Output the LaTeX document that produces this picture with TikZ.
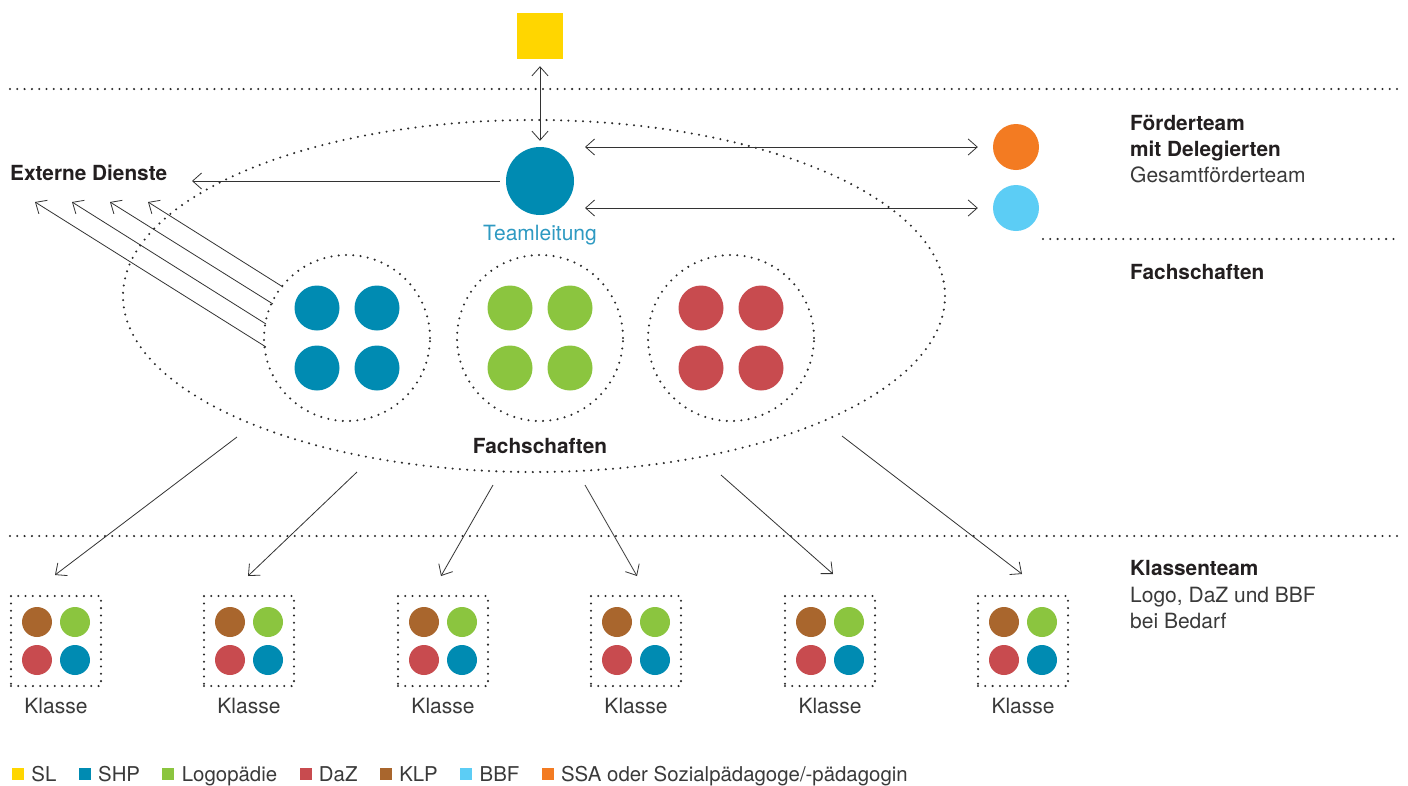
\documentclass[tikz,border=0pt]{standalone}
\usepackage{fontspec}
\setmainfont{TeX Gyre Heros}
\usetikzlibrary{arrows.meta,shapes.geometric,calc}
\definecolor{slc}{HTML}{FFD600}
\definecolor{shpc}{HTML}{008BB2}
\definecolor{logc}{HTML}{8BC53F}
\definecolor{dazc}{HTML}{C84B4F}
\definecolor{klpc}{HTML}{A9662D}
\definecolor{bbfc}{HTML}{5CCDF5}
\definecolor{ssac}{HTML}{F37B22}
\definecolor{txtc}{HTML}{231F20}
\definecolor{regc}{HTML}{3A3A3A}
\definecolor{tlc}{HTML}{2E9AC2}
\definecolor{arrc}{HTML}{333333}
\definecolor{dotc}{HTML}{2A2A2A}
\begin{document}
\begin{tikzpicture}[x=1pt,y=-1pt,
  dotline/.style={draw=dotc,line width=2.3pt,dash pattern=on 0pt off 7.3pt,line cap=round},
  arr/.style={draw=arrc,line width=0.8pt,-{Straight Barb[length=9pt,width=16pt]}},
  dual/.style={draw=arrc,line width=0.8pt,{Straight Barb[length=9pt,width=16pt]}-{Straight Barb[length=9pt,width=16pt]}},
  disc/.style={circle,inner sep=0pt,minimum size=#1},
  bt/.style={font=\fontsize{20.8}{25}\selectfont\bfseries,text=txtc,inner sep=0pt},
  rt/.style={font=\fontsize{21}{25}\selectfont,text=regc,inner sep=0pt},
  lt/.style={font=\fontsize{20.4}{25}\selectfont,text=regc,inner sep=0pt},
  lsq/.style={minimum size=12pt,inner sep=0pt}]
\useasboundingbox (0,0) rectangle (1408,785);
\fill[white] (0,0) rectangle (1408,785);

% horizontal separators
\draw[dotline] (10,89) -- (1400,89);
\draw[dotline] (1043,239) -- (1400,239);
\draw[dotline] (10,536) -- (1400,536);

% top nodes
\node[fill=slc,minimum size=46pt,inner sep=0pt] (sl) at (540,36) {};
\node[disc=68pt,fill=shpc] (tl) at (540,181) {};
\node[font=\fontsize{21}{25}\selectfont,text=tlc,inner sep=0pt,anchor=base] (tltext) at (540,240) {Teamleitung};
\node[disc=46pt,fill=ssac] (oc) at (1016,147) {};
\node[disc=46pt,fill=bbfc] (lb) at (1016,208) {};

% big ellipse
\node[ellipse,dotline,minimum width=822pt,minimum height=352pt,inner sep=0pt] (ell) at (534,296) {};

% Fachschaften clusters
\foreach \n/\cx/\col in {fa/347/shpc,fb/540/logc,fc/731/dazc}{
  \node[circle,dotline,minimum size=166pt,inner sep=0pt] (\n) at (\cx,338) {};
  \foreach \dx in {-30,30}{
    \foreach \dy in {-30,30}{
      \fill[\col] (\cx+\dx,338+\dy) circle (22.5);
    }
  }
}
\node[bt,anchor=base] (fach) at (540,453) {Fachschaften};

% Klasse boxes
\foreach \i/\cx in {1/56,2/249,3/443,4/636,5/830,6/1023}{
  \node[dotline,minimum size=90pt,inner sep=0pt] (k\i) at (\cx,641) {};
  \fill[klpc] (\cx-19,622) circle (15);
  \fill[logc] (\cx+19,622) circle (15);
  \fill[dazc] (\cx-19,660) circle (15);
  \fill[shpc] (\cx+19,660) circle (15);
  \node[rt,anchor=base] (kl\i) at (\cx,713) {Klasse};
}

% labels
\node[bt,anchor=base west] (ext) at (10,180) {Externe Dienste};
\node[bt,anchor=base west] (ft1) at (1130,130) {Förderteam};
\node[bt,anchor=base west] (ft2) at (1130,156) {mit Delegierten};
\node[rt,anchor=base west] (ft3) at (1130,182) {Gesamtförderteam};
\node[bt,anchor=base west] (fs) at (1130,279) {Fachschaften};
\node[bt,anchor=base west] (kt1) at (1130,575) {Klassenteam};
\node[rt,anchor=base west] (kt2) at (1130,602) {Logo, DaZ und BBF};
\node[rt,anchor=base west] (kt3) at (1130,628) {bei Bedarf};

% connectors
\draw[dual,shorten <=7pt,shorten >=6pt] (sl) -- (tl);
\coordinate (h1) at (585,147);
\coordinate (h2) at (585,208);
\draw[dual,shorten >=15pt] (h1) -- (oc.west);
\draw[dual,shorten >=15pt] (h2) -- (lb.west);
\coordinate (e0) at (192,181);
\draw[arr,shorten <=6pt] (tl.west) -- (e0);

% arrows to external services
\coordinate (xs1) at (266,347); \coordinate (xe1) at (35,202);
\coordinate (xs2) at (266,324); \coordinate (xe2) at (72,202);
\coordinate (xs3) at (273,304); \coordinate (xe3) at (110,202);
\coordinate (xs4) at (283,287); \coordinate (xe4) at (148,202);
\foreach \i in {1,2,3,4}{\draw[arr] (xs\i) -- (xe\i);}

% arrows to classes
\coordinate (ks1) at (237,437); \coordinate (ke1) at (55,575);
\coordinate (ks2) at (357,472); \coordinate (ke2) at (248,576);
\coordinate (ks3) at (493,485); \coordinate (ke3) at (441,576);
\coordinate (ks4) at (585,485); \coordinate (ke4) at (637,576);
\coordinate (ks5) at (721,475); \coordinate (ke5) at (833,574);
\coordinate (ks6) at (842,436); \coordinate (ke6) at (1022,574);
\foreach \i in {1,...,6}{\draw[arr] (ks\i) -- (ke\i);}

% legend
\coordinate (lsy) at (0,774);
\coordinate (lby) at (0,781);
\node[lsq,fill=slc] (q1) at (18,774) {};
\node[lt,anchor=base west] (t1) at ($(q1.east |- lby)+(7,0)$) {SL};
\node[lsq,fill=shpc,anchor=west] (q2) at ($(t1.east |- lsy)+(22,0)$) {};
\node[lt,anchor=base west] (t2) at ($(q2.east |- lby)+(7,0)$) {SHP};
\node[lsq,fill=logc,anchor=west] (q3) at ($(t2.east |- lsy)+(22,0)$) {};
\node[lt,anchor=base west] (t3) at ($(q3.east |- lby)+(7,0)$) {Logopädie};
\node[lsq,fill=dazc,anchor=west] (q4) at ($(t3.east |- lsy)+(22,0)$) {};
\node[lt,anchor=base west] (t4) at ($(q4.east |- lby)+(7,0)$) {DaZ};
\node[lsq,fill=klpc,anchor=west] (q5) at ($(t4.east |- lsy)+(22,0)$) {};
\node[lt,anchor=base west] (t5) at ($(q5.east |- lby)+(7,0)$) {KLP};
\node[lsq,fill=bbfc,anchor=west] (q6) at ($(t5.east |- lsy)+(22,0)$) {};
\node[lt,anchor=base west] (t6) at ($(q6.east |- lby)+(7,0)$) {BBF};
\node[lsq,fill=ssac,anchor=west] (q7) at ($(t6.east |- lsy)+(22,0)$) {};
\node[lt,anchor=base west] (t7) at ($(q7.east |- lby)+(7,0)$) {SSA oder Sozialpädagoge/-pädagogin};
\end{tikzpicture}
\end{document}
